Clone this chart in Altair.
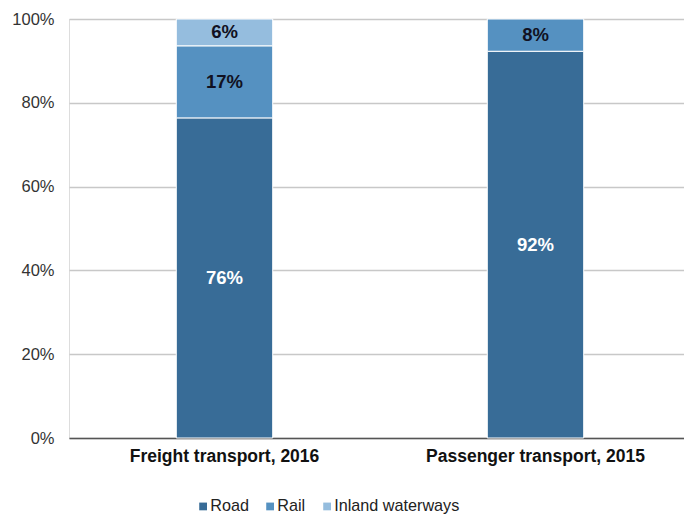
import altair as alt
import pandas as pd

categories = ["Freight transport, 2016", "Passenger transport, 2015"]
modes = ["Road", "Rail", "Inland waterways"]
freight_values = [76.4, 17.2, 6.4]
passenger_values = [92.3, 7.7, 0.0]
colors = ["#386C97", "#5591C1", "#95BDDE"]
label_colors = ["#FFFFFF", "#111122", "#111122"]

rows = []
for cat, vals in zip(categories, [freight_values, passenger_values]):
    cum = 0.0
    for i, (m, v) in enumerate(zip(modes, vals)):
        if v <= 0:
            continue
        rows.append({
            "category": cat, "mode": m, "value": v, "order": i,
            "start": cum, "end": cum + v, "mid": cum + v / 2,
            "label": f"{round(v)}%", "lcolor": label_colors[i],
        })
        cum += v
df = pd.DataFrame(rows)

x_enc = alt.X("category:N", sort=categories, title=None,
              scale=alt.Scale(paddingInner=0.69, paddingOuter=0.345, range=[0, 622]),
              axis=alt.Axis(labelAngle=0, labelFontSize=17.5, labelFontWeight="bold",
                            labelColor="#111111", labelFont="Liberation Sans",
                            labelPadding=9, labelLimit=0, ticks=False,
                            domainColor="#555555", domainWidth=1.5))

bars = alt.Chart(df).mark_bar(stroke="white", strokeWidth=1).encode(
    x=x_enc,
    y=alt.Y("start:Q", scale=alt.Scale(domain=[0, 100]), title=None,
            axis=alt.Axis(values=[0, 20, 40, 60, 80, 100], labelExpr="datum.value + '%'",
                          labelFontSize=16.5, labelColor="#333333", labelFont="Liberation Sans",
                          domain=False, ticks=False, labelPadding=15,
                          gridColor="#C8C8C8", gridWidth=1.5)),
    y2="end:Q",
    color=alt.Color("mode:N", sort=modes,
                    scale=alt.Scale(domain=modes, range=colors),
                    legend=alt.Legend(title=None, orient="none", direction="horizontal",
                                      legendX=126, legendY=479, symbolType="square",
                                      symbolSize=60, symbolStrokeWidth=0,
                                      labelFontSize=16.2, labelFont="Liberation Sans",
                                      labelColor="#222222", columnPadding=13,
                                      labelOffset={"expr": "-1"})),
)

labels = alt.Chart(df).mark_text(fontSize=18.5, fontWeight="bold",
                                 font="Liberation Sans", baseline="middle").encode(
    x=alt.X("category:N", sort=categories),
    y=alt.Y("mid:Q"),
    text="label:N",
    color=alt.Color("lcolor:N", scale=None),
)

chart = alt.layer(bars, labels).properties(
    width=615, height=419,
    autosize=alt.AutoSizeParams(type="none"),
    padding={"left": 69, "top": 19, "right": 0, "bottom": 78},
).configure_view(stroke=None).configure(background="white")

chart.save("out.html", embed_options={"renderer": "svg", "actions": False})
